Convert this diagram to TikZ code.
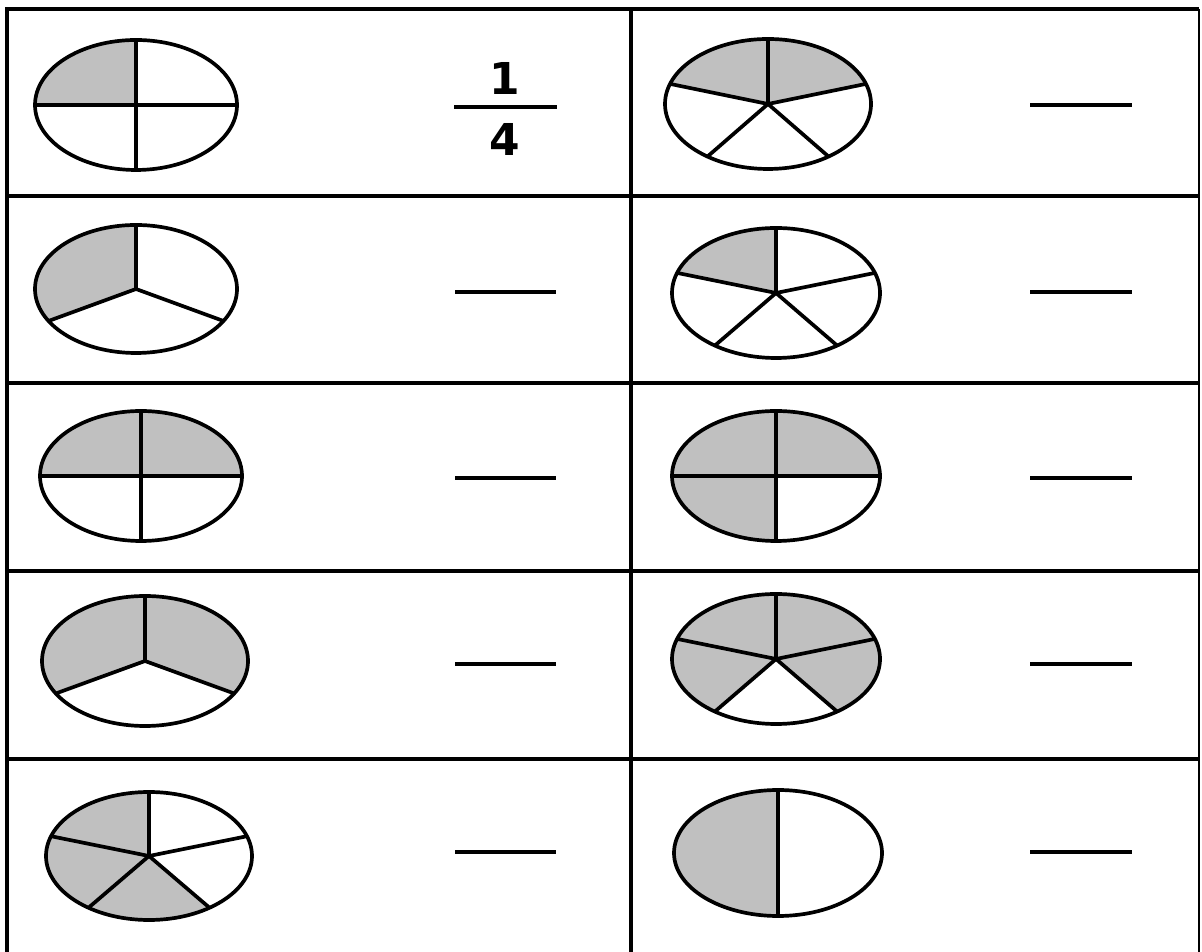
\documentclass[tikz,border=0pt]{standalone}
\usepackage{fontspec}
\setmainfont{DejaVu Sans}
\definecolor{shadegray}{RGB}{192,192,192}
\tikzset{
  gridline/.style={line width=2.8pt, black},
  pieline/.style={line width=2.1pt, black},
  spoke/.style={line width=2.1pt, black},
  pieshade/.style={fill=shadegray},
  blank/.style={line width=2.1pt, black},
  digit/.style={font=\fontsize{25}{25}\selectfont\bfseries, inner sep=0pt, anchor=center}
}
% #1 name, #2 cx, #3 cy (pixels from top), #4 rx, #5 ry, #6 parts, #7 shaded sector indices
\newcommand\mypie[7]{%
  \coordinate (#1) at (#2,{952-#3});
  \pgfmathsetmacro\pstep{360/#6}
  \foreach \k in {#7}{%
    \fill[pieshade] (#1) -- ++({90+\k*\pstep}:#4 and #5)
      arc[start angle={90+\k*\pstep}, delta angle=\pstep, x radius=#4, y radius=#5] -- cycle;
  }
  \foreach \k in {1,...,#6}{%
    \draw[spoke] (#1) -- ++({90+\k*\pstep}:#4 and #5);
  }
  \draw[pieline] (#1) ellipse[x radius=#4, y radius=#5];
}
% #1 name, #2 x1, #3 x2, #4 y (pixels from top)
\newcommand\myblank[4]{%
  \coordinate (#1a) at (#2,{952-#4});
  \coordinate (#1b) at (#3,{952-#4});
  \draw[blank] (#1a) -- (#1b);
}
\begin{document}
\begin{tikzpicture}[x=0.02cm,y=0.02cm]
\useasboundingbox (0,0) rectangle (1202,952);
\fill[white] (0,0) rectangle (1202,952);
% grid
\coordinate (tl) at (7,943);
\coordinate (tr) at (1199,943);
\coordinate (bl) at (7,0);
\coordinate (br) at (1199,0);
\coordinate (tm) at (631,943);
\coordinate (bm) at (631,0);
\draw[gridline] (bl) -- (tl) -- (tr);
\draw[gridline, line width=1.6pt] (tr) -- (br);
\draw[gridline] (tm) -- (bm);
\foreach \yy [count=\i] in {196,383,571,759}{
  \coordinate (hl\i) at (7,{952-\yy});
  \coordinate (hr\i) at (1199,{952-\yy});
  \draw[gridline] (hl\i) -- (hr\i);
}
% row 1
\mypie{p1}{136}{105}{101}{65}{4}{0}
\mypie{p2}{768}{104}{103}{65}{5}{0,4}
% row 2
\mypie{p3}{136}{289}{101}{64}{3}{0}
\mypie{p4}{776}{293}{104}{65}{5}{0}
% row 3
\mypie{p5}{141}{476}{101}{65}{4}{0,3}
\mypie{p6}{776}{476}{104}{65}{4}{0,1,3}
% row 4
\mypie{p7}{145}{661}{103}{65}{3}{0,2}
\mypie{p8}{776}{659}{104}{65}{5}{0,1,3,4}
% row 5
\mypie{p9}{149}{856}{103}{64}{5}{0,1,2}
\mypie{p10}{778}{853}{104}{63}{2}{0}
% fraction 1/4
\node[digit] (num) at (505,{952-79}) {1};
\node[digit] (den) at (505,{952-140}) {4};
\myblank{bar}{454}{557}{107}
% answer blanks
\myblank{b2}{1030}{1132}{105}
\myblank{b3}{455}{556}{292}
\myblank{b4}{1030}{1132}{292}
\myblank{b5}{455}{556}{478}
\myblank{b6}{1030}{1132}{478}
\myblank{b7}{455}{556}{664}
\myblank{b8}{1030}{1132}{664}
\myblank{b9}{455}{556}{852}
\myblank{b10}{1030}{1132}{852}
\end{tikzpicture}
\end{document}
